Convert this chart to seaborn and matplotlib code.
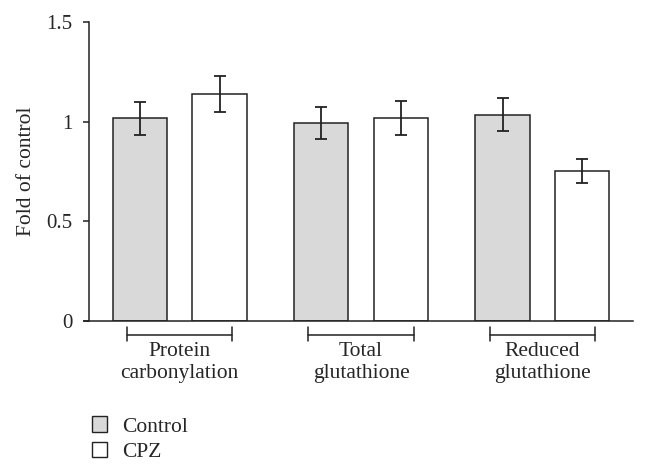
import numpy as np
import pandas as pd
import seaborn as sns
import matplotlib.pyplot as plt
from matplotlib.patches import Patch

groups = ['Protein\ncarbonylation', 'Total\nglutathione', 'Reduced\nglutathione']
treatments = ['Control', 'CPZ']
control_mean = [1.017, 0.992, 1.034]
control_err = [0.082, 0.080, 0.083]
cpz_mean = [1.137, 1.018, 0.751]
cpz_err = [0.091, 0.084, 0.061]
colors = {'Control': '#d9d9d9', 'CPZ': '#ffffff'}

df = pd.DataFrame({
    'group': groups * 2,
    'treatment': ['Control'] * 3 + ['CPZ'] * 3,
    'value': control_mean + cpz_mean,
})
errs = {'Control': control_err, 'CPZ': cpz_err}

sns.set_style('white')
plt.rcParams['font.family'] = ['Liberation Serif', 'DejaVu Serif']

fig = plt.figure(figsize=(6.48, 4.71), dpi=100)
ax = fig.add_axes([0.1373, 0.3185, 0.977 - 0.1373, 0.9533 - 0.3185])

sns.barplot(data=df, x='group', y='value', hue='treatment', hue_order=treatments,
            palette=colors, width=0.88, gap=0.32, edgecolor='#222222',
            linewidth=1.1, errorbar=None, legend=False, ax=ax)

for cont, t in zip(ax.containers, treatments):
    xs = [p.get_x() + p.get_width() / 2 for p in cont]
    hs = [p.get_height() for p in cont]
    ax.errorbar(xs, hs, yerr=errs[t], fmt='none', ecolor='#222222',
                elinewidth=1.3, capsize=4, capthick=1.3)

ax.set_xlim(-0.5, 2.5)
ax.set_ylim(0, 1.5)
ax.set_yticks([0, 0.5, 1, 1.5])
ax.set_yticklabels(['0', '0.5', '1', '1.5'])
ax.set_ylabel('Fold of control', fontsize=15.5, labelpad=7)
ax.set_xlabel('')
ax.tick_params(axis='y', length=4, width=1.1, color='#222222', labelsize=15, pad=8,
               left=True)
ax.tick_params(axis='x', length=0, labelsize=15.5, pad=15)
for s in ['top', 'right']:
    ax.spines[s].set_visible(False)
for s in ['left', 'bottom']:
    ax.spines[s].set_color('#222222')
    ax.spines[s].set_linewidth(1.1)
ax.spines['bottom'].set_bounds(-0.53, 2.5)
ax.spines['left'].set_bounds(0, 1.5)

# group brackets under the axis
tr = ax.get_xaxis_transform()
for i in range(len(groups)):
    x0, x1 = i - 0.29, i + 0.29
    ax.plot([x0, x1], [-0.046, -0.046], color='#222222', lw=1.1, transform=tr, clip_on=False)
    for xx in (x0, x1):
        ax.plot([xx, xx], [-0.020, -0.066], color='#222222', lw=1.1, transform=tr, clip_on=False)

handles = [Patch(facecolor=colors[t], edgecolor='#222222', linewidth=1.0, label=t)
           for t in treatments]
fig.legend(handles=handles, loc='upper left', bbox_to_anchor=(0.128, 0.134),
           frameon=False, fontsize=15.5, handlelength=0.7, handleheight=0.7,
           handletextpad=0.7, labelspacing=0.25, borderaxespad=0)

fig.savefig('out.png', dpi=100)
